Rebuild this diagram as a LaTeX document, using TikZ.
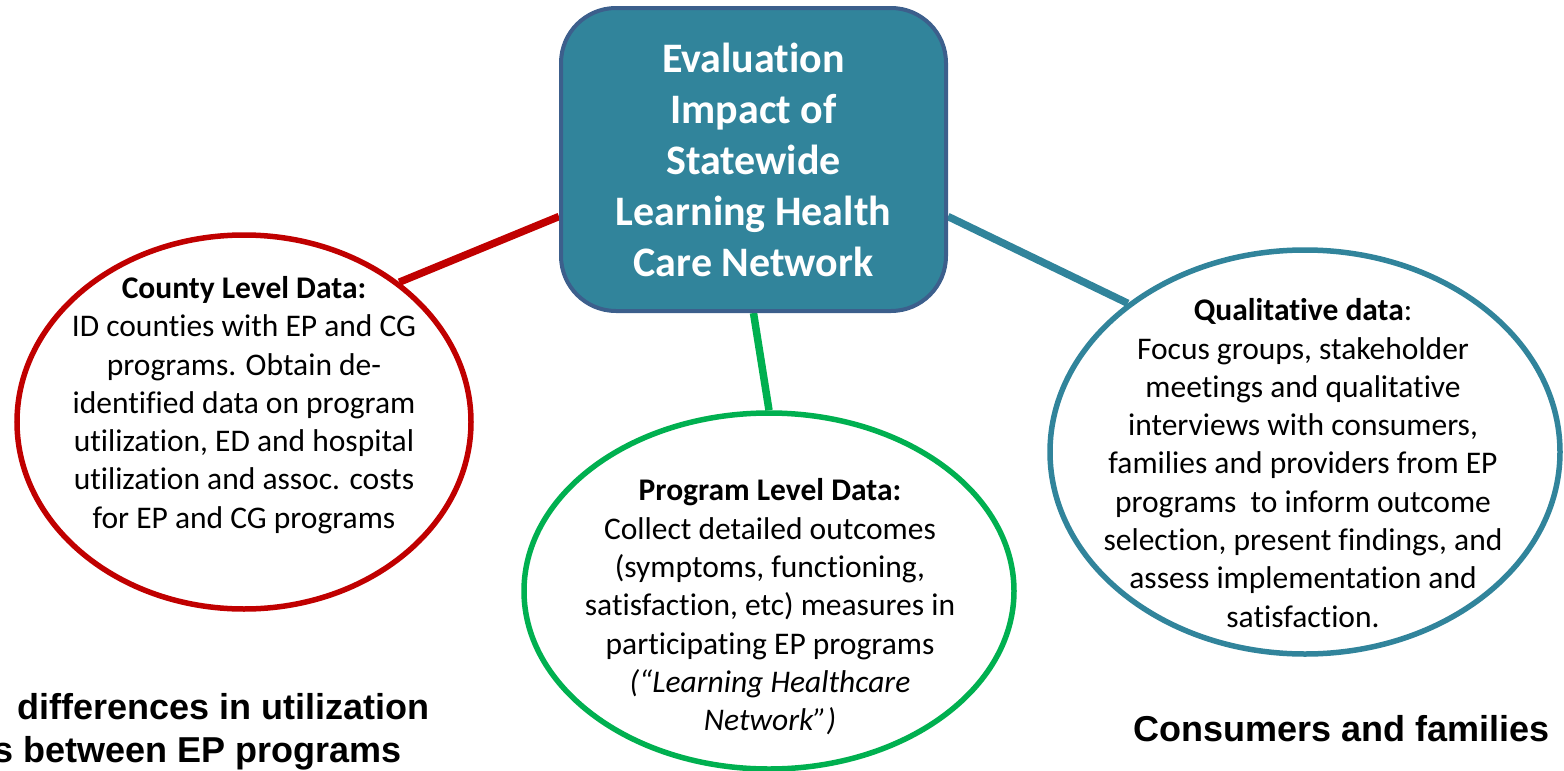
\documentclass[tikz,border=0pt]{standalone}
\usepackage{fontspec}
\setmainfont{Carlito}[Ligatures=NoCommon]
\newfontfamily\arialfont{Liberation Sans}
\usetikzlibrary{shapes.geometric,backgrounds}
\definecolor{tealc}{HTML}{31849B}
\definecolor{boxborder}{HTML}{3C5F8C}
\definecolor{redc}{HTML}{C00000}
\definecolor{greenc}{HTML}{00B050}
\tikzset{
  bubble/.style={ellipse, draw, line width=5.5pt, inner sep=0pt, fill=white},
  bodytext/.style={align=center, inner sep=0pt, font=\fontsize{31.5}{38.3}\selectfont},
  link/.style={line width=7.5pt},
  hub/.style={rectangle, rounded corners=55pt, draw=boxborder, fill=tealc, line width=4pt,
    minimum width=385pt, minimum height=303pt, text=white, align=center,
    font=\fontsize{42}{51}\selectfont\bfseries},
  bottomtext/.style={inner sep=0pt, font=\arialfont\bfseries\fontsize{36}{41}\selectfont}
}
\begin{document}
\begin{tikzpicture}[x=1pt,y=-1pt]
\useasboundingbox (0,0) rectangle (1564,771);
\clip (0,0) rectangle (1564,771);
\node[hub] (hub) at (753.5,159.5) {Evaluation\\Impact of\\Statewide\\Learning Health\\Care Network};
\node[bubble, draw=redc, minimum width=454pt, minimum height=374pt] (county) at (244,422) {};
\node[bubble, draw=greenc, minimum width=490pt, minimum height=356pt] (prog) at (769,591) {};
\node[bubble, draw=tealc, minimum width=510pt, minimum height=404pt] (qual) at (1305,452) {};
\begin{pgfonlayer}{background}
\draw[link, redc] ([yshift=-57pt]hub.west) -- (county.42);
\draw[link, greenc] (hub.south) -- (prog.north);
\draw[link, tealc] ([yshift=-57pt]hub.east) -- (qual.140);
\end{pgfonlayer}
\node[bodytext] (countytext) at (244,405) {\textbf{County Level Data:}\\ID counties with EP and CG\\programs. Obtain de-\\identified data on program\\utilization, ED and hospital\\utilization and assoc. costs\\for EP and CG programs};
\node[bodytext] (progtext) at (770,607) {\textbf{Program Level Data:}\\Collect detailed outcomes\\(symptoms, functioning,\\satisfaction, etc) measures in\\participating EP programs\\\textit{(“Learning Healthcare}\\\textit{Network”)}};
\node[bodytext] (qualtext) at (1303,463) {\textbf{Qualitative data}:\\Focus groups, stakeholder\\meetings and qualitative\\interviews with consumers,\\families and providers from EP\\programs\ \ to inform outcome\\selection, present findings, and\\assess implementation and\\satisfaction.};
\node[bottomtext, anchor=base east] (diffa) at (430,719) {differences in utilization};
\node[bottomtext, anchor=base east] (diffb) at (402,762) {s between EP programs};
\node[bottomtext, anchor=base west] (cons) at (1133,741) {Consumers and families};
\end{tikzpicture}
\end{document}
